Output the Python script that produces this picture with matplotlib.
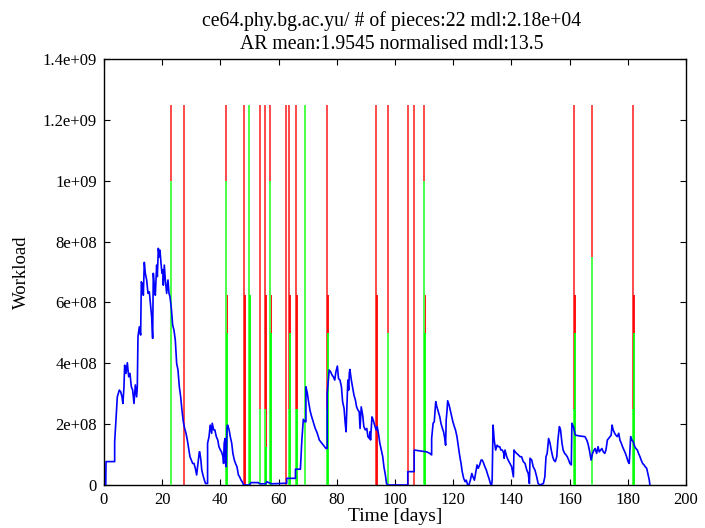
import matplotlib
matplotlib.use("Agg")
import matplotlib.pyplot as plt
import numpy as np

plt.rcParams['font.family'] = ['Liberation Serif', 'DejaVu Serif']

# workload trace: (day, value in 1e9)
trace = [
    (0.6, 0.0), (0.7, 0.077), (3.67, 0.077), (3.67, 0.142), (4.12, 0.216), (4.58, 0.29), (5.27, 0.312),
    (5.73, 0.307), (6.19, 0.29), (6.5, 0.268), (6.87, 0.323), (7.1, 0.394), (7.56, 0.367),
    (8.02, 0.402), (8.48, 0.356), (8.93, 0.367), (9.39, 0.323), (9.85, 0.312), (10.31, 0.268),
    (10.77, 0.329), (11.22, 0.29), (11.45, 0.323), (11.68, 0.487), (12.14, 0.52), (12.6, 0.493),
    (12.83, 0.668), (13.29, 0.657), (13.52, 0.624), (13.86, 0.732), (14.2, 0.696), (14.66, 0.674),
    (15.12, 0.63), (15.58, 0.635), (16.04, 0.586), (16.38, 0.553), (16.72, 0.482), (16.95, 0.696),
    (17.3, 0.652), (17.64, 0.624), (18.1, 0.723), (18.33, 0.685), (18.67, 0.778), (19.01, 0.75),
    (19.24, 0.772), (19.59, 0.729), (19.93, 0.696), (20.2, 0.707), (20.39, 0.657), (20.73, 0.723),
    (21.08, 0.674), (21.54, 0.63), (21.99, 0.674), (22.34, 0.63), (22.68, 0.619), (23.14, 0.581),
    (23.6, 0.526), (24.05, 0.509), (24.51, 0.476), (24.97, 0.4), (25.43, 0.378), (25.89, 0.323),
    (26.35, 0.29), (26.8, 0.246), (27.26, 0.208), (27.72, 0.186), (28.18, 0.17), (28.64, 0.148),
    (29.1, 0.12), (29.55, 0.093), (30.01, 0.082), (30.47, 0.071), (30.93, 0.071), (31.39, 0.055),
    (31.84, 0.033), (32.3, 0.071), (32.76, 0.109),
    (32.9, 0.109), (33.3, 0.082), (33.6, 0.049), (34.0, 0.033), (34.5, 0.016), (34.9, 0.005),
    (35.6, 0.005), (35.6, 0.137), (36.1, 0.159), (36.5, 0.197), (37.0, 0.17), (37.2, 0.203),
    (37.7, 0.181), (38.1, 0.181), (38.6, 0.159), (39.1, 0.148), (39.5, 0.126), (40.0, 0.115),
    (40.4, 0.109), (40.9, 0.093), (41.1, 0.071), (41.3, 0.137), (41.6, 0.153), (41.8, 0.071),
    (42.0, 0.06), (42.3, 0.192), (42.5, 0.197), (43.0, 0.181), (43.4, 0.159), (43.9, 0.137),
    (44.3, 0.104), (44.8, 0.082), (45.2, 0.071), (45.7, 0.06), (46.2, 0.033), (46.6, 0.027),
    (47.1, 0.016), (47.5, 0.011), (48.0, 0.0),
    (50.0, 0.0), (50.5, 0.008), (53.0, 0.008), (53.5, 0.004), (55.6, 0.004), (55.9, 0.011),
    (57.5, 0.004), (62.8, 0.006), (62.8, 0.022), (65.8, 0.022), (65.8, 0.052), (67.5, 0.052),
    (67.7, 0.093), (68.0, 0.148), (68.5, 0.216), (69.0, 0.208), (69.4, 0.208), (69.4, 0.323),
    (69.9, 0.301), (70.3, 0.274), (70.8, 0.246), (71.2, 0.23), (71.7, 0.214), (72.2, 0.197),
    (72.6, 0.186), (73.1, 0.175), (73.5, 0.164), (74.0, 0.148), (74.5, 0.142), (74.9, 0.137),
    (75.4, 0.131), (75.8, 0.126), (76.3, 0.12), (76.7, 0.12), (76.7, 0.301), (77.4, 0.378),
    (77.9, 0.372), (78.4, 0.361), (78.8, 0.356), (79.3, 0.345), (79.7, 0.372), (80.2, 0.391),
    (80.6, 0.35), (81.1, 0.345), (81.6, 0.323), (82.0, 0.274), (82.5, 0.252), (82.9, 0.203),
    (83.2, 0.175), (83.4, 0.236), (83.8, 0.345), (84.1, 0.312), (84.3, 0.367), (84.5, 0.38),
    (85.0, 0.345), (85.5, 0.318), (85.9, 0.296), (86.4, 0.279), (86.8, 0.257), (87.3, 0.246),
    (87.7, 0.241), (88.0, 0.186), (88.4, 0.257), (88.9, 0.23), (89.3, 0.192), (89.8, 0.181),
    (90.3, 0.186), (90.7, 0.159), (91.2, 0.153), (91.4, 0.175), (91.6, 0.148), (92.1, 0.224),
    (92.5, 0.214), (93.0, 0.197), (93.5, 0.181), (93.9, 0.192), (94.4, 0.164), (94.8, 0.137),
    (95.3, 0.115), (95.8, 0.093), (96.2, 0.06), (96.7, 0.033), (97.1, 0.005), (97.5, 0.0),
    (104.4, 0.0), (104.4, 0.044), (106.6, 0.044), (106.6, 0.115), (110.9, 0.109), (112.0, 0.104),
    (112.6, 0.099), (112.6, 0.153), (113.1, 0.203), (113.5, 0.208), (114.0, 0.274), (114.4, 0.257),
    (114.9, 0.241), (115.4, 0.224), (115.8, 0.203), (116.3, 0.186), (116.7, 0.175), (117.2, 0.148),
    (117.4, 0.131), (117.6, 0.214), (117.9, 0.246), (118.1, 0.277), (118.6, 0.263), (119.0, 0.246),
    (119.5, 0.224), (119.9, 0.208), (120.4, 0.192), (120.8, 0.181), (121.3, 0.159), (121.8, 0.126),
    (122.2, 0.099), (122.7, 0.071), (123.1, 0.044), (123.6, 0.022), (124.1, 0.011), (124.5, 0.016),
    (125.0, 0.0), (125.4, 0.0), (125.9, 0.016), (126.4, 0.038), (126.8, 0.027), (127.3, 0.016),
    (127.7, 0.038), (128.2, 0.066), (128.6, 0.055), (129.1, 0.066), (129.6, 0.082), (130.0, 0.082),
    (130.5, 0.071), (130.9, 0.06), (131.4, 0.049), (131.9, 0.033), (132.3, 0.022), (132.8, 0.005),
    (133.2, 0.0), (133.4, 0.016), (133.7, 0.197), (134.1, 0.148), (134.6, 0.115), (135.1, 0.131),
    (135.5, 0.126), (136.0, 0.126), (136.4, 0.115), (136.9, 0.115), (137.4, 0.104),
    (137.5, 0.088), (137.8, 0.115), (138.4, 0.093), (138.9, 0.082), (139.5, 0.071), (140.1, 0.06),
    (140.7, 0.027), (140.9, 0.115), (141.3, 0.109), (141.8, 0.104), (142.4, 0.099), (143.0, 0.093),
    (143.5, 0.093), (144.1, 0.077), (144.7, 0.071), (145.3, 0.049), (145.8, 0.038), (146.2, 0.005),
    (146.4, 0.088), (147.0, 0.082), (147.5, 0.06), (148.1, 0.049), (148.7, 0.027), (149.2, 0.005),
    (149.8, 0.0), (151.0, 0.005), (151.5, 0.027), (151.9, 0.093), (152.3, 0.104), (152.8, 0.153),
    (153.3, 0.137), (153.7, 0.115), (154.2, 0.093), (154.6, 0.082), (155.1, 0.077), (155.6, 0.093),
    (156.0, 0.148), (156.5, 0.192), (156.9, 0.181), (157.4, 0.137), (157.8, 0.115), (158.3, 0.104),
    (158.8, 0.099), (159.2, 0.093), (159.7, 0.082), (160.1, 0.071), (160.6, 0.066), (160.8, 0.203),
    (161.3, 0.192), (162.0, 0.164), (163.6, 0.161), (165.3, 0.159), (165.9, 0.148), (166.3, 0.137),
    (166.8, 0.115), (167.2, 0.093), (167.4, 0.082), (167.9, 0.104), (168.4, 0.115), (168.8, 0.12),
    (169.3, 0.104), (169.8, 0.126), (170.2, 0.109), (170.7, 0.115), (171.1, 0.12), (171.6, 0.109),
    (172.1, 0.104), (172.5, 0.115), (173.0, 0.148), (173.4, 0.153), (173.9, 0.159), (174.3, 0.164),
    (174.6, 0.197), (175.0, 0.181), (175.5, 0.17), (175.9, 0.164), (176.4, 0.159), (176.9, 0.17),
    (177.3, 0.148), (177.8, 0.137), (178.2, 0.126), (178.7, 0.115), (179.2, 0.104), (179.6, 0.093),
    (180.1, 0.077), (180.5, 0.071), (181.0, 0.159), (181.4, 0.148), (181.9, 0.142), (182.4, 0.126),
    (182.8, 0.12), (183.3, 0.115), (183.7, 0.104), (184.2, 0.093), (184.6, 0.082), (185.1, 0.071),
    (185.6, 0.066), (186.0, 0.06), (186.5, 0.055), (186.9, 0.038), (187.4, 0.016), (187.6, 0.0),
]
days = np.array([t[0] for t in trace])
load = np.array([t[1] for t in trace]) * 1e9

# change points (days) and impulse heights (1e9)
cp_days = [22.9, 27.4, 41.9, 48.2, 49.8, 53.6, 55.2, 57.0, 62.4, 63.7, 65.9,
           69.2, 76.7, 93.5, 97.5, 104.4, 106.6, 110.1, 161.5, 167.7, 181.9]
red_main = [1.25] * len(cp_days)
green_main = [1.0, 0, 1.0, 0, 1.25, 0.25, 0.25, 1.0, 0, 0.25, 0.25,
              1.25, 0.25, 0, 0.5, 0, 0, 1.0, 0.25, 0.75, 0.25]
red_side = [0, 0, 0.625, 0.625, 0, 0, 0.625, 0.625, 0, 0.625, 0.625,
            0, 0.625, 0.625, 0, 0, 0, 0.625, 0.625, 0, 0.625]
green_side = [0, 0, 0.5, 0, 0.625, 0, 0.125, 0.5, 0, 0.5, 0.25,
              0, 0.5, 0, 0, 0, 0, 0.5, 0.5, 0, 0.5]

title1 = "ce64.phy.bg.ac.yu/ # of pieces:22 mdl:2.18e+04"
title2 = "AR mean:1.9545 normalised mdl:13.5"

fig = plt.figure(figsize=(7.05, 5.28), dpi=100)
ax = fig.add_axes([0.1475, 0.0814, 0.8255, 0.8066])

cp = np.array(cp_days)
side = cp + 0.35
gm = np.array(green_main) * 1e9
rm = np.maximum(np.array(red_main) * 1e9, gm)
gs = np.array(green_side) * 1e9
rs = np.maximum(np.array(red_side) * 1e9, gs)
# red only above the green part, so colours do not blend
ax.vlines(cp, gm, rm, color='#ff4a4a', lw=1.4, zorder=2)
ax.vlines(cp, 0, gm, color='#4aff4a', lw=1.4, zorder=3)
ax.vlines(side, gs, rs, color='#ff0000', lw=1.3, zorder=2)
ax.vlines(side, 0, gs, color='#00ff00', lw=1.3, zorder=3)

ax.plot(days, load, color='#0000ff', lw=1.2, zorder=4)

ax.set_xlim(0, 200)
ax.set_ylim(0, 1.4e9)
ax.set_xticks(np.arange(0, 201, 20))
yt = np.arange(0, 1.41e9, 2e8)
ax.set_yticks(yt)
ax.set_yticklabels(['0', '2e+08', '4e+08', '6e+08', '8e+08', '1e+09', '1.2e+09', '1.4e+09'])
ax.tick_params(direction='in', length=4, width=0.8, top=True, right=True, labelsize=12, pad=5)
for s in ax.spines.values():
    s.set_linewidth(1.0)

ax.set_xlabel('Time [days]', fontsize=14, labelpad=0)
ax.set_ylabel('Workload', fontsize=13.5, labelpad=9)
fig.text(392 / 705, 1 - 26 / 528, title1, fontsize=14.2, ha='center', va='baseline')
fig.text(392 / 705, 1 - 49 / 528, title2, fontsize=14.2, ha='center', va='baseline')

fig.savefig('out.png', dpi=100)
